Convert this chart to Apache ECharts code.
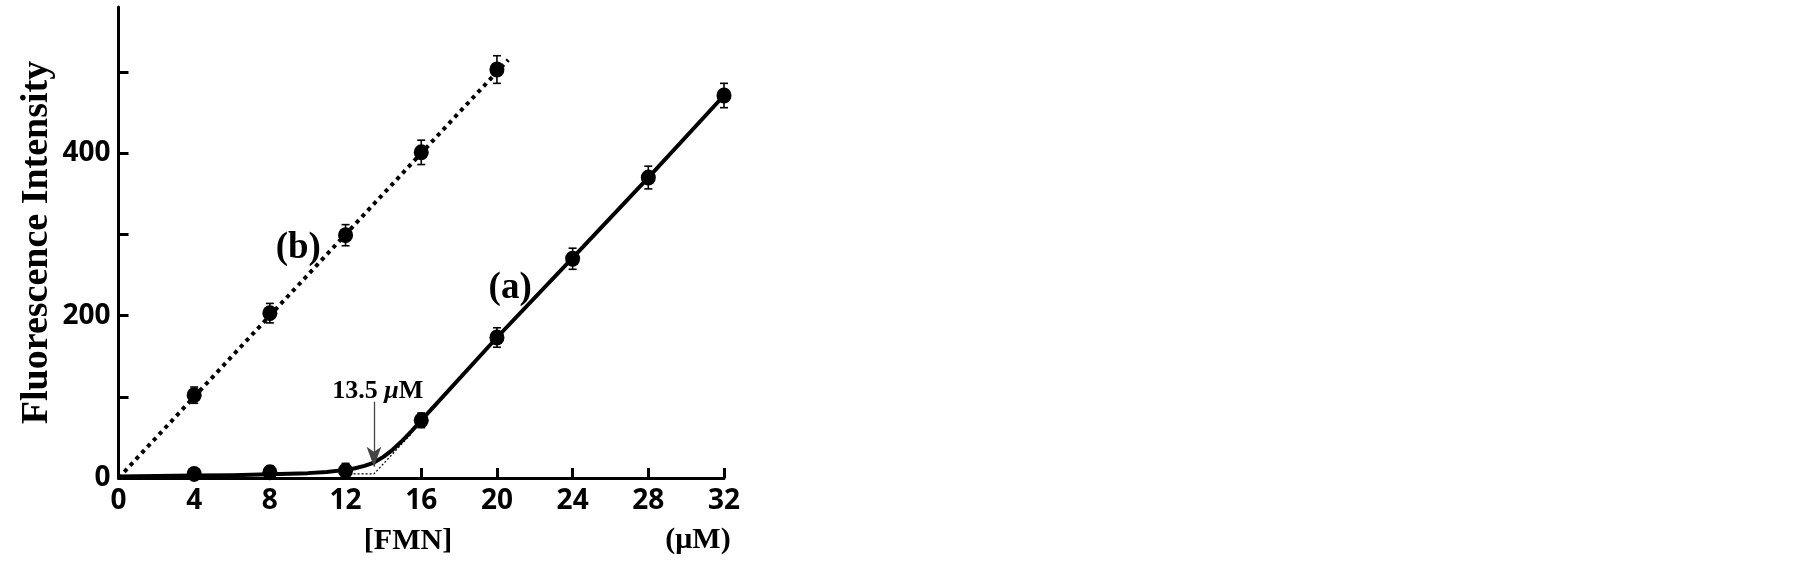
<!DOCTYPE html>
<html><head><meta charset="utf-8">
<script src="https://cdn.jsdelivr.net/npm/echarts@6/dist/echarts.min.js"></script>
<style>html,body{margin:0;padding:0;background:#fff}#c{width:1805px;height:562px}</style>
</head><body><div id="c"></div>
<script>
// ---- data ----
const concA = [4, 8, 12, 16, 20, 24, 28, 32];
const intensityA = [5, 7, 9, 71, 173, 270, 370, 471];
const errorA = [6, 8, 9, 9, 12, 13, 14, 15];
const concB = [4, 8, 12, 16, 20];
const intensityB = [102, 203, 299, 401, 503];
const errorB = [10, 12, 13, 15, 17];
const fitAx = [0, 2, 4, 6, 8, 10, 11, 12, 12.5, 13, 13.5, 14, 14.5, 15, 15.5, 16, 20, 24, 28, 32, 32.5];
const fitAy = [2, 2.5, 3, 3.5, 4.5, 6, 7.5, 10, 12, 15, 19, 26, 35, 46, 58, 71, 173, 271, 370, 471, 484];
const fitBx = [0, 20.6];
const fitBy = [0, 515];
const extrapX = [12, 13.5, 15.5];
const extrapY = [5, 5, 55];
const yTickValues = [0, 100, 200, 300, 400, 500];
const yLabelValues = [0, 200, 400];
const breakPoint = 13.5;

const zip = (xs, ys) => xs.map((x, i) => [x, ys[i]]);
const errData = zip(concA, intensityA).map((p, i) => [p[0], p[1], errorA[i]])
  .concat(zip(concB, intensityB).map((p, i) => [p[0], p[1], errorB[i]]));

const serif = "'Liberation Serif', 'Times New Roman', serif";
const sans = "'Noto Sans', 'Open Sans', sans-serif";

const chart = echarts.init(document.getElementById('c'), null, {renderer: 'canvas'});
chart.setOption({
  animation: false,
  backgroundColor: '#fff',
  grid: {left: 118.5, right: 1081, top: 7, bottom: 84},
  xAxis: {
    type: 'value', min: 0, max: 32, interval: 4,
    axisLine: {lineStyle: {color: '#000', width: 3}},
    axisTick: {show: true, inside: true, length: 10, lineStyle: {color: '#000', width: 3}},
    axisLabel: {margin: 9, color: '#000', fontFamily: sans, fontWeight: 'bold', fontSize: 28},
    splitLine: {show: false}
  },
  yAxis: {
    type: 'value', min: 0, max: 580,
    name: 'Fluorescence Intensity', nameLocation: 'middle', nameGap: 62,
    nameTextStyle: {color: '#000', fontFamily: serif, fontWeight: 'bold', fontSize: 38},
    axisLine: {show: true, lineStyle: {color: '#000', width: 3}},
    axisTick: {show: true, inside: true, length: 10, customValues: yTickValues, lineStyle: {color: '#000', width: 3}},
    axisLabel: {margin: 8, customValues: yLabelValues, color: '#000', fontFamily: sans, fontWeight: 'bold', fontSize: 28},
    splitLine: {show: false}
  },
  graphic: [
    {type: 'text', x: 408, y: 541, style: {text: '[FMN]', font: 'bold 30px ' + serif, fill: '#000', align: 'center', verticalAlign: 'middle'}},
    {type: 'text', x: 698, y: 540, style: {text: '(μM)', font: 'bold 30px ' + serif, fill: '#000', align: 'center', verticalAlign: 'middle'}}
  ],
  series: [
    {
      type: 'line', data: zip(fitAx, fitAy), showSymbol: false, smooth: false, clip: false,
      lineStyle: {color: '#000', width: 4, join: 'round'}, z: 3
    },
    {
      type: 'line', data: zip(fitBx, fitBy), showSymbol: false, clip: false,
      lineStyle: {color: '#000', width: 4, type: [4, 4.5], cap: 'butt'}, z: 3
    },
    {
      type: 'line', data: zip(extrapX, extrapY), showSymbol: false, clip: false,
      lineStyle: {color: '#000', width: 1.2, type: [2, 2]}, z: 2,
      markLine: {
        silent: true, animation: false, symbol: ['none', 'arrow'], symbolSize: [11, 20],
        label: {show: false},
        lineStyle: {color: '#444', width: 1.3, type: 'solid'},
        data: [[{coord: [breakPoint, 94]}, {coord: [breakPoint, 14]}]]
      }
    },
    {
      type: 'custom', data: errData, z: 4, clip: false,
      renderItem: function (params, api) {
        const x = api.value(0), y = api.value(1), e = api.value(2);
        const top = api.coord([x, y + e]);
        const bot = api.coord([x, y - e]);
        const w = 4;
        const st = {stroke: '#000', lineWidth: 1.6};
        return {type: 'group', children: [
          {type: 'line', shape: {x1: top[0], y1: top[1], x2: bot[0], y2: bot[1]}, style: st},
          {type: 'line', shape: {x1: top[0] - w, y1: top[1], x2: top[0] + w, y2: top[1]}, style: st},
          {type: 'line', shape: {x1: bot[0] - w, y1: bot[1], x2: bot[0] + w, y2: bot[1]}, style: st}
        ]};
      }
    },
    {
      type: 'scatter', data: zip(concA, intensityA), symbol: 'circle', symbolSize: [15, 16], clip: false,
      itemStyle: {color: '#000', opacity: 1}, z: 5
    },
    {
      type: 'scatter', data: zip(concB, intensityB), symbol: 'circle', symbolSize: [15, 16], clip: false,
      itemStyle: {color: '#000', opacity: 1}, z: 5
    },
    {
      type: 'scatter', symbolSize: 0, silent: true, z: 6,
      itemStyle: {opacity: 1},
      data: [
        {value: [9.5, 283], label: {formatter: '(b)'}},
        {value: [20.7, 234], label: {formatter: '(a)'}},
        {value: [13.7, 107], label: {formatter: '{n|13.5 }{u|μ}{n|M}'}}
      ],
      label: {
        show: true, position: 'inside', color: '#000', opacity: 1, fontFamily: serif, fontWeight: 'bold', fontSize: 37,
        rich: {
          n: {fontFamily: serif, fontSize: 26, color: '#000'},
          u: {fontFamily: serif, fontSize: 26, fontStyle: 'italic', color: '#000'}
        }
      }
    }
  ]
});
</script>
</body></html>
